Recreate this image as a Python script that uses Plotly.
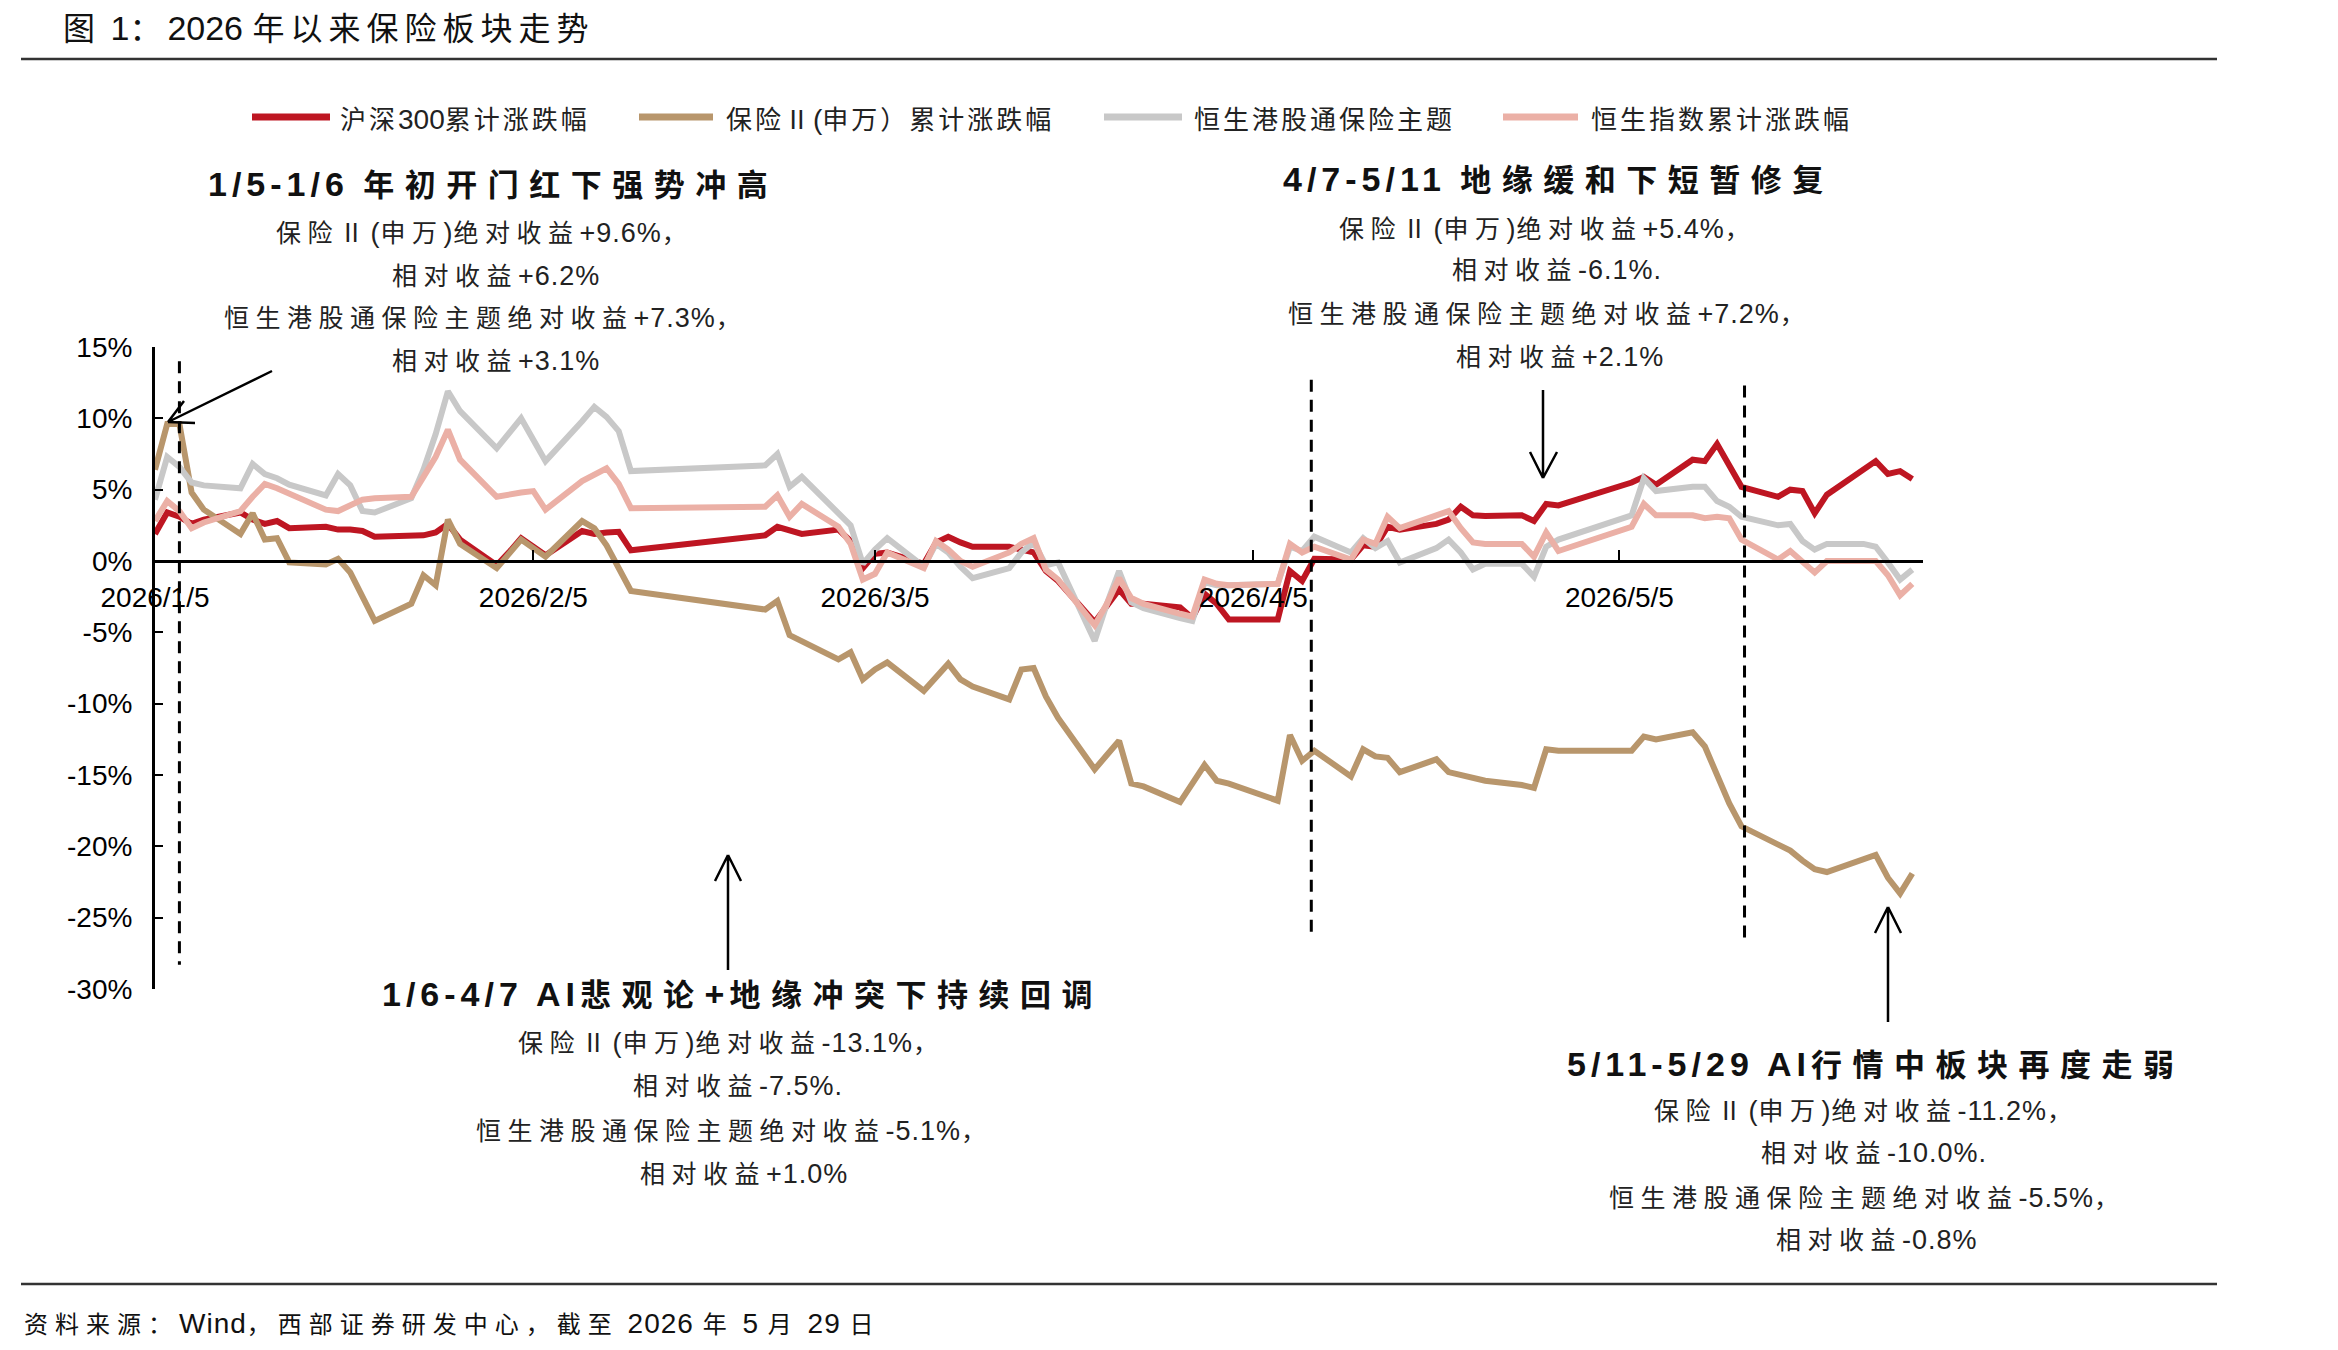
import plotly.graph_objects as go

# ---------------- data ----------------
dates = [
    "2026-01-05", "2026-01-06", "2026-01-07", "2026-01-08", "2026-01-09",
    "2026-01-12", "2026-01-13", "2026-01-14", "2026-01-15", "2026-01-16",
    "2026-01-19", "2026-01-20", "2026-01-21", "2026-01-22", "2026-01-23",
    "2026-01-26", "2026-01-27", "2026-01-28", "2026-01-29", "2026-01-30",
    "2026-02-02", "2026-02-03", "2026-02-04", "2026-02-05", "2026-02-06",
    "2026-02-09", "2026-02-10", "2026-02-11", "2026-02-12", "2026-02-13",
    "2026-02-24", "2026-02-25", "2026-02-26", "2026-02-27",
    "2026-03-02", "2026-03-03", "2026-03-04", "2026-03-05", "2026-03-06",
    "2026-03-09", "2026-03-10", "2026-03-11", "2026-03-12", "2026-03-13",
    "2026-03-16", "2026-03-17", "2026-03-18", "2026-03-19", "2026-03-20",
    "2026-03-23", "2026-03-24", "2026-03-25", "2026-03-26", "2026-03-27",
    "2026-03-30", "2026-03-31", "2026-04-01", "2026-04-02", "2026-04-03",
    "2026-04-07", "2026-04-08", "2026-04-09", "2026-04-10",
    "2026-04-13", "2026-04-14", "2026-04-15", "2026-04-16", "2026-04-17",
    "2026-04-20", "2026-04-21", "2026-04-22", "2026-04-23", "2026-04-24",
    "2026-04-27", "2026-04-28", "2026-04-29", "2026-04-30",
    "2026-05-06", "2026-05-07", "2026-05-08",
    "2026-05-11", "2026-05-12", "2026-05-13", "2026-05-14", "2026-05-15",
    "2026-05-18", "2026-05-19", "2026-05-20", "2026-05-21", "2026-05-22",
    "2026-05-25", "2026-05-26", "2026-05-27", "2026-05-28", "2026-05-29",
]

hs300 = [
    1.9, 3.4, 3.1, 2.6, 2.9,
    3.4, 2.9, 2.6, 2.8, 2.3,
    2.4, 2.2, 2.2, 2.1, 1.7,
    1.7, 1.8, 2.0, 2.6, 1.5,
    -0.3, 0.6, 1.6, 1.0, 0.4,
    2.1, 1.9, 2.0, 2.05, 0.75,
    1.8, 2.4, 2.1, 1.9,
    2.2, 1.4, -0.5, 0.5, 0.6,
    -0.2, 1.3, 1.7, 1.3, 1.0,
    1.0, 0.8, 0.6, -0.7, -1.4,
    -4.3, -3.1, -2.0, -3.0, -3.0,
    -3.25, -4.0, -2.3, -3.0, -4.1,
    -4.1, -0.7, -1.4, 0.15,
    0.1, 1.1, 1.0, 2.4, 2.2,
    2.6, 2.9, 3.8, 3.2, 3.15,
    3.2, 2.8, 4.0, 3.9,
    5.5, 5.9, 5.35,
    7.1, 7.0, 8.2, 6.6, 5.2,
    4.5, 5.0, 4.9, 3.35, 4.65,
    6.4, 7.0, 6.1, 6.3, 5.75,
]

insurance_sw = [
    6.4, 9.6, 9.6, 4.8, 3.6,
    1.9, 3.35, 1.5, 1.6, -0.1,
    -0.25, 0.15, -0.8, -2.4, -4.2,
    -3.0, -1.0, -1.7, 2.9, 1.2,
    -0.5, 0.5, 1.5, 0.9, 0.3,
    2.8, 2.3, 1.1, -0.6, -2.1,
    -3.4, -2.8, -5.2, -5.6,
    -6.9, -6.4, -8.3, -7.6, -7.1,
    -9.1, -8.2, -7.2, -8.3, -8.8,
    -9.7, -7.6, -7.5, -9.5, -11.0,
    -14.6, -13.6, -12.6, -15.6, -15.8,
    -16.9, -15.6, -14.3, -15.4, -15.6,
    -16.8, -12.2, -14.0, -13.3,
    -15.1, -13.2, -13.7, -13.8, -14.8,
    -13.9, -14.8, -15.0, -15.2, -15.4,
    -15.7, -15.9, -13.2, -13.3,
    -13.3, -12.3, -12.5,
    -12.0, -13.0, -15.0, -17.0, -18.6,
    -19.8, -20.3, -21.0, -21.6, -21.8,
    -20.9, -20.6, -22.2, -23.3, -21.9,
]

hk_insurance = [
    4.3, 7.3, 6.6, 5.5, 5.3,
    5.1, 6.8, 6.1, 5.8, 5.35,
    4.6, 6.1, 5.3, 3.5, 3.4,
    4.4, 6.4, 8.9, 11.9, 10.5,
    7.9, 8.9, 10.0, 8.5, 7.0,
    9.8, 10.8, 10.1, 9.1, 6.3,
    6.7, 7.5, 5.2, 5.9,
    3.4, 2.5, -0.2, 0.8, 1.6,
    -0.4, 1.2, 0.6, -0.4, -1.2,
    -0.5, 0.6, 1.3, -0.3, -0.1,
    -5.6, -3.0, -0.7, -2.9, -3.3,
    -4.0, -4.2, -1.5, -1.7, -1.7,
    -1.6, 1.0, 0.7, 1.7,
    0.6, 1.6, 0.9, 1.4, -0.1,
    0.9, 1.5, 0.6, -0.6, -0.2,
    -0.2, -1.1, 1.0, 1.5,
    3.2, 5.8, 4.9,
    5.2, 5.2, 4.2, 3.8, 3.1,
    2.5, 2.6, 1.4, 0.8, 1.2,
    1.2, 1.0, -0.1, -1.3, -0.6,
]

hsi = [
    2.8, 4.2, 3.5, 2.3, 2.7,
    3.5, 4.5, 5.4, 5.1, 4.7,
    3.6, 3.5, 3.9, 4.3, 4.4,
    4.5, 5.9, 7.3, 9.2, 7.1,
    4.5, 4.7, 4.8, 4.9, 3.6,
    5.6, 6.1, 6.5, 5.4, 3.7,
    3.8, 4.6, 3.1, 4.0,
    2.4, 1.2, -1.3, -0.9, 0.6,
    -0.5, 1.4, 0.8, 0.0, -0.4,
    0.6, 1.2, 1.6, -0.6, -1.3,
    -4.5, -3.0, -1.2, -2.6, -3.0,
    -3.7, -3.9, -1.3, -1.6, -1.7,
    -1.6, 1.2, 0.6, 1.0,
    0.1, 1.5, 1.2, 3.1, 2.3,
    3.2, 3.5, 2.3, 1.3, 1.2,
    1.2, 0.3, 2.0, 0.7,
    2.4, 4.0, 3.2,
    3.2, 3.0, 3.1, 3.0, 1.5,
    0.1, 0.7, -0.1, -0.8, 0.0,
    0.0, 0.0, -1.0, -2.4, -1.6,
]

series_names = ["沪深300累计涨跌幅", "保险Ⅱ(申万）累计涨跌幅", "恒生港股通保险主题", "恒生指数累计涨跌幅"]
series_colors = ["#BE1622", "#B8966C", "#C8C8C8", "#EBB0A6"]

x_tickvals = ["2026-01-05", "2026-02-05", "2026-03-05", "2026-04-05", "2026-05-05"]
x_ticktext = ["2026/1/5", "2026/2/5", "2026/3/5", "2026/4/5", "2026/5/5"]
y_tickvals = [15, 10, 5, 0, -5, -10, -15, -20, -25, -30]
y_ticktext = ["15%", "10%", "5%", "0%", "-5%", "-10%", "-15%", "-20%", "-25%", "-30%"]

marker_dates = ["2026-01-07", "2026-04-09 18:00", "2026-05-15 06:00"]

title_text = "图 1：2026 年以来保险板块走势"
source_text = "资料来源：Wind，西部证券研发中心，截至 2026 年 5 月 29 日"

blocks = [
    ["1/5-1/6 年初开门红下强势冲高",
     "保险Ⅱ(申万)绝对收益+9.6%，", "相对收益+6.2%",
     "恒生港股通保险主题绝对收益+7.3%，", "相对收益+3.1%"],
    ["4/7-5/11 地缘缓和下短暂修复",
     "保险Ⅱ(申万)绝对收益+5.4%，", "相对收益-6.1%.",
     "恒生港股通保险主题绝对收益+7.2%，", "相对收益+2.1%"],
    ["1/6-4/7 AI悲观论+地缘冲突下持续回调",
     "保险Ⅱ(申万)绝对收益-13.1%，", "相对收益-7.5%.",
     "恒生港股通保险主题绝对收益-5.1%，", "相对收益+1.0%"],
    ["5/11-5/29 AI行情中板块再度走弱",
     "保险Ⅱ(申万)绝对收益-11.2%，", "相对收益-10.0%.",
     "恒生港股通保险主题绝对收益-5.5%，", "相对收益-0.8%"],
]

# ---------------- layout geometry (pixels) ----------------
FIG_W, FIG_H = 2338, 1350
L, T, R, B = 155, 347, 1923, 989
W, H = R - L, B - T


def px(x):
    return (x - L) / W


def py(y):
    return (B - y) / H


CJK = "Noto Sans CJK SC"
LAT = "Liberation Sans"


def rich(text, cjk_size, cjk_sp, lat_size, lat_sp, bold=False):
    """Render text with wider spacing on CJK runs and Arial-like latin runs."""
    runs = []
    for ch in text:
        kind = ch.isascii()
        if runs and runs[-1][0] == kind:
            runs[-1][1] += ch
        else:
            runs.append([kind, ch])
    out = []
    w = "font-weight:bold;" if bold else ""
    for is_lat, s in runs:
        if is_lat:
            st = "font-family:%s;font-size:%spx;letter-spacing:%spx;%s" % (LAT, lat_size, lat_sp, w)
        else:
            st = "font-size:%spx;letter-spacing:%spx;%s" % (cjk_size, cjk_sp, w)
        out.append('<span style="%s">%s</span>' % (st, s))
    return "".join(out)


fig = go.Figure()
for name, vals, col in zip(series_names, [hs300, insurance_sw, hk_insurance, hsi], series_colors):
    fig.add_trace(go.Scatter(x=dates, y=vals, mode="lines", name=name,
                             line=dict(color=col, width=6), showlegend=False,
                             hoverinfo="skip"))

shapes = []
annos = []

# dashed period markers
dash_spans = [(14.0, -28.3), (12.7, -26.0), (12.3, -26.6)]
for d, (y0, y1) in zip(marker_dates, dash_spans):
    shapes.append(dict(type="line", xref="x", yref="y", x0=d, x1=d, y0=y0, y1=y1,
                       line=dict(color="black", width=3, dash="12px,8px")))

# arrows (open V heads)
arrows = [
    ((272, 371), (168, 422), [(195, 423), (184, 401)]),
    ((1543, 390), (1543, 478), [(1530, 452), (1557, 452)]),
    ((728, 970), (728, 855), [(715, 881), (741, 881)]),
    ((1888, 1022), (1888, 907), [(1875, 933), (1901, 933)]),
]
for (x0, y0), (x1, y1), barbs in arrows:
    path = "M %f,%f L %f,%f" % (px(x0), py(y0), px(x1), py(y1))
    for bx, by in barbs:
        path += " M %f,%f L %f,%f" % (px(bx), py(by), px(x1), py(y1))
    shapes.append(dict(type="path", xref="paper", yref="paper", path=path,
                       line=dict(color="black", width=2.5)))

# top / bottom rules
for yy in (59, 1284):
    shapes.append(dict(type="line", xref="paper", yref="paper",
                       x0=px(21), x1=px(2217), y0=py(yy), y1=py(yy),
                       line=dict(color="#333333", width=2.5)))

# legend (manual)
legend_pos = [(252, 330, 338), (639, 713, 724), (1104, 1182, 1192), (1503, 1578, 1589)]
for (lx0, lx1, tx), name, col in zip(legend_pos, series_names, series_colors):
    shapes.append(dict(type="line", xref="paper", yref="paper",
                       x0=px(lx0), x1=px(lx1), y0=py(117), y1=py(117),
                       line=dict(color=col, width=7)))
    annos.append(dict(xref="paper", yref="paper", x=px(tx), y=py(117),
                      xanchor="left", yanchor="middle", showarrow=False,
                      text=rich(name, 26, 3, 28, 0),
                      font=dict(family=CJK, size=26, color="#222222")))

# title and source
annos.append(dict(xref="paper", yref="paper", x=px(61), y=py(26), xanchor="left",
                  yanchor="middle", showarrow=False, text=rich(title_text, 32, 6, 34, 0),
                  font=dict(family=CJK, size=32, color="#111111")))
annos.append(dict(xref="paper", yref="paper", x=px(22), y=py(1322), xanchor="left",
                  yanchor="middle", showarrow=False, text=rich(source_text, 24, 7, 28, 1),
                  font=dict(family=CJK, size=24, color="#111111")))

# annotation blocks
block_pos = [
    [(493, 182), (484, 231), (496, 274), (485, 316), (496, 359)],
    [(1558, 177), (1547, 227), (1557, 268), (1549, 312), (1560, 355)],
    [(742, 992), (731, 1041), (738, 1084), (734, 1129), (744, 1172)],
    [(1875, 1062), (1866, 1109), (1874, 1151), (1867, 1196), (1877, 1238)],
]
for lines, poss in zip(blocks, block_pos):
    for i, (txt, (cx, cy)) in enumerate(zip(lines, poss)):
        if i == 0:
            t = rich(txt, 31, 10.5, 34, 5, bold=True)
            f = dict(family=CJK, size=31, color="#111111")
        else:
            t = rich(txt, 25, 6.5, 27, 1, bold=False)
            f = dict(family=CJK, size=25, color="#222222")
        annos.append(dict(xref="paper", yref="paper", x=px(cx), y=py(cy),
                          xanchor="center", yanchor="middle", showarrow=False,
                          text=t, font=f))

fig.update_layout(
    width=FIG_W, height=FIG_H,
    margin=dict(l=L, r=FIG_W - R, t=T, b=FIG_H - B, pad=0),
    paper_bgcolor="white", plot_bgcolor="white",
    showlegend=False,
    shapes=shapes, annotations=annos,
    xaxis=dict(type="date", range=["2026-01-05", "2026-05-29 21:00"],
               anchor="free", position=30 / 45,
               showline=True, linecolor="black", linewidth=3,
               showgrid=False, zeroline=False,
               tickmode="array", tickvals=x_tickvals, ticktext=x_ticktext,
               ticks="inside", ticklen=10, tickwidth=2, tickcolor="black",
               ticklabelstandoff=10,
               tickfont=dict(family=LAT, size=28, color="black")),
    yaxis=dict(range=[-30, 15], showline=True, linecolor="black", linewidth=3,
               showgrid=False, zeroline=False,
               tickmode="array", tickvals=y_tickvals, ticktext=y_ticktext,
               ticks="inside", ticklen=8, tickwidth=2, tickcolor="black",
               ticklabelstandoff=14,
               tickfont=dict(family=LAT, size=28, color="black")),
)

fig.write_html("out.html")
